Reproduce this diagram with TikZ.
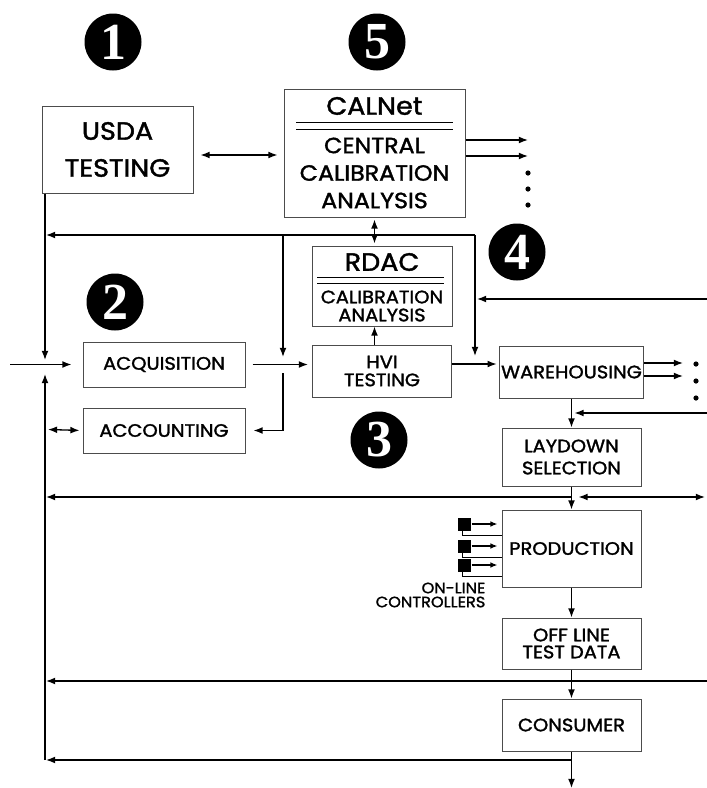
\documentclass[tikz,border=0pt]{standalone}
\usepackage{fontspec}
\setmainfont{Poppins}[FakeStretch=1.08, FakeBold=1.6]
\newfontfamily\numfont{Liberation Serif}
\usetikzlibrary{arrows.meta,positioning}

\begin{document}
\begin{tikzpicture}[x=1pt, y=-1pt, line width=1.3pt, node distance=29pt and 40pt]
\tikzstyle{box}=[rectangle, draw=black!70, line width=1pt, inner sep=2pt, align=center, fill=white, minimum width=139pt]
\tikzstyle{big}=[font=\fontsize{25}{37}\selectfont]
\tikzstyle{mid}=[font=\fontsize{22}{27.5}\selectfont]
\tikzstyle{small}=[font=\fontsize{18}{18}\selectfont]
\tikzstyle{num}=[circle, fill=black, text=white, minimum size=57pt, inner sep=0pt, font=\numfont\bfseries\fontsize{52}{52}\selectfont]
\tikzstyle{ctrl}=[rectangle, fill=black, minimum size=13pt, inner sep=0pt]
\tikzstyle{flow}=[-{Latex[length=3.2mm, width=2.4mm]}]
\tikzstyle{both}=[{Latex[length=3.2mm, width=2.4mm]}-{Latex[length=3.2mm, width=2.4mm]}]
\useasboundingbox (0,0) rectangle (707,788);

% numbered markers
\node[num] (n1) at (113,42) {1};
\node[num] (n5) at (377,42) {5};
\node[num] (n2) at (115,302) {2};
\node[num] (n3) at (379,440) {3};
\node[num] (n4) at (517,252) {4};

% boxes
\node[box, big, minimum width=151pt, minimum height=87pt] (usda) at (117.5,149.5) {USDA\\TESTING};
\node[box, minimum width=181pt, minimum height=128pt] (calnet) at (374.5,153) {};
\node[big] (calnettitle) at (374.5,106) {CALNet};
\node[mid, align=center] (calnetbody) at (374.5,173) {CENTRAL\\CALIBRATION\\ANALYSIS};
\node[box, small, minimum height=52pt] (hvi) at (382,371) {HVI\\TESTING};
\node[box, minimum width=140pt, minimum height=80pt, above=18pt of hvi] (rdac) {};
\node[big] (rdactitle) at (382,262) {RDAC};
\node[small, align=center] (rdacbody) at (382,306) {CALIBRATION\\ANALYSIS};
\node[box, small, minimum width=162pt, minimum height=45pt] (acq) at (164,364.5) {ACQUISITION};
\node[box, small, minimum width=162pt, minimum height=45pt, below=20pt of acq] (acct) {ACCOUNTING};
\node[box, small, minimum height=52pt] (wareh) at (571.5,372) {WAREHOUSING};
\node[box, small, minimum height=58pt, font=\fontsize{18}{22}\selectfont, below=29pt of wareh] (laydown) {LAYDOWN\\SELECTION};
\node[box, small, minimum height=77pt, below=23pt of laydown] (prod) {PRODUCTION};
\node[box, small, minimum height=51pt, font=\fontsize{18}{17}\selectfont, below=30pt of prod] (offline) {OFF LINE\\TEST DATA};
\node[box, small, minimum height=52pt, below=29pt of offline] (consumer) {CONSUMER};
\node[align=right, anchor=north east, font=\fontsize{15}{14}\selectfont, inner sep=0pt] (ctllabel) at (486,582) {ON-LINE\\CONTROLLERS};

% double rules in the split boxes
\draw[line width=0.8pt] (296,122) -- (453,122) (296,129) -- (453,129);
\draw[line width=0.8pt] (317,277) -- (444,277) (317,283) -- (444,283);

% free ends
\coordinate (lTop) at (45,235);
\coordinate (lUp) at (45,360);
\coordinate (lDown) at (45,374);
\coordinate (lAcct) at (48,429.5);
\coordinate (lMid) at (45,497);
\coordinate (lLow) at (45,681);
\coordinate (lBot) at (45,760);
\coordinate (lIn) at (10,364.5);
\coordinate (jAcq) at (283,235);
\coordinate (jAcqEnd) at (283,357);
\coordinate (jAcqLow) at (283,373);
\coordinate (jHvi) at (475,235);
\coordinate (jHviEnd) at (475,356);
\coordinate (hwY) at (0,364);
\coordinate (uY) at (0,155);
\coordinate (cOut1) at (528,140);
\coordinate (cOut2) at (528,156);
\coordinate (wOut1) at (683,363);
\coordinate (wOut2) at (683,376);
\coordinate (rIn1) at (707,299);
\coordinate (rIn2) at (707,413);
\coordinate (rMid) at (705,497);
\coordinate (rLow) at (707,681);
\coordinate (out) at (571.5,788);

% left bus
\draw[flow] (usda.south -| lTop) -- (lUp);
\draw[flow] (lBot) -- (lDown);
\draw[flow, shorten >=11pt] (lIn) -- (acq.west);
\draw[both, shorten >=3pt] (lAcct) -- (acct.west);

% calibration network
\draw[both, shorten <=7pt, shorten >=6pt] (usda.east |- uY) -- (calnet.west |- uY);
\draw[flow] (calnet.east |- cOut1) -- (cOut1);
\draw[flow] (calnet.east |- cOut2) -- (cOut2);
\foreach \y in {173,189,205} \fill (528,\y) circle (2.6pt);
\draw[both, shorten <=2pt, shorten >=2pt] (calnet.south) -- (calnet.south |- rdac.north);
\draw[flow] (hvi.north -| calnet.south) -- (rdac.south -| calnet.south);
\draw[flow, shorten >=1pt] (jHvi) -- (lTop);
\draw[flow] (jAcq) -- (jAcqEnd);
\draw[flow] (jHvi) -- (jHviEnd);
\draw[flow, shorten >=8pt] (jAcqLow) |- (acct.east);
\draw[flow, shorten >=2pt] (rIn1) -- (rIn1 -| jHvi);

% main flow
\draw[flow, shorten <=7pt, shorten >=4pt] (acq.east) -- (acq.east -| hvi.west);
\draw[flow, shorten >=2pt] (hvi.east |- hwY) -- (wareh.west |- hwY);
\draw[flow] (wareh.east |- wOut1) -- (wOut1);
\draw[flow] (wareh.east |- wOut2) -- (wOut2);
\foreach \y in {364,381,398} \fill (696,\y) circle (2.6pt);
\draw[flow] (wareh) -- (laydown);
\draw[flow, shorten >=3pt] (rIn2) -- (rIn2 -| laydown.north);
\draw[flow] (laydown) -- (prod);
\draw[flow, shorten >=1pt] (laydown.south |- lMid) -- (lMid);
\draw[both] ([xshift=7pt]laydown.south |- lMid) -- (rMid);
\draw[flow] (prod) -- (offline);
\draw[flow] (offline) -- (consumer);
\draw[flow, shorten >=1pt] (rLow) -- (lLow);
\draw[flow] (consumer) -- (out);
\draw[flow, shorten >=1pt] (consumer.south |- lBot) -- (lBot);

% on-line controllers
\foreach \i/\y in {1/524,2/546,3/565} {
  \node[ctrl] (ctl\i) at (464.5,\y) {};
  \draw[-{Latex[length=2.5mm, width=2mm]}, line width=1.3pt, shorten >=4pt] (ctl\i) -- (ctl\i -| prod.west);
  \draw[line width=0.9pt] ([xshift=-2pt]ctl\i.south) |- ([yshift=-4pt]ctl\i.south -| prod.west);
}
\end{tikzpicture}
\end{document}
